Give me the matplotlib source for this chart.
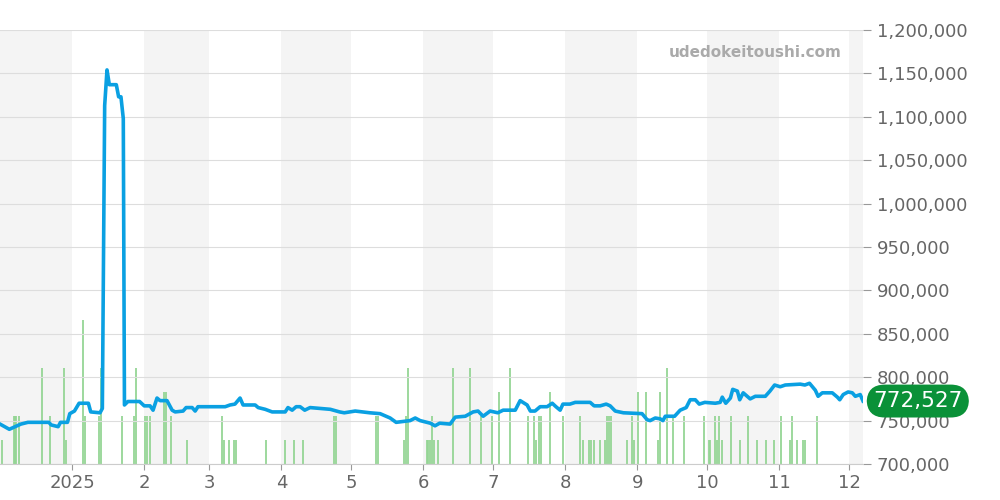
import datetime as dt
import matplotlib
matplotlib.use('Agg')
import matplotlib.pyplot as plt

# 価格推移 (2024-12-01 からの日数, 円)
start = dt.datetime(2024, 12, 1)
price_days = [0, 4, 9, 12, 21, 22, 25, 26, 29, 30, 32, 34, 38, 39, 43, 44, 45, 46, 47, 50, 51, 52, 53, 53.5,
              55, 60, 62, 64.5, 65.8, 67.5, 68.8, 71.8, 74, 75.3, 78.7, 80, 82.6, 83.9, 85.1, 96.8, 98.9, 101,
              103.2, 104.5, 109.7, 111, 114, 117, 122.6, 123.8, 125.6, 127.3, 129, 131, 133.3, 142, 146, 148,
              150.5, 152.7, 159, 163.4, 167.7, 170.3, 176.3, 178.5, 180.6, 185, 187, 189, 193.5, 195.7, 200,
              203.4, 205.5, 207.7, 210.7, 214, 216.3, 221.5, 223.6, 226.6, 228, 230, 232.2, 235.2, 237.4, 239,
              240.8, 242, 245, 247.3, 253.7, 255.4, 258, 260.6, 262.3, 264.5, 268, 276, 278.2, 279.5, 281.7,
              283.8, 285, 286, 290, 292.4, 295, 296.7, 298.9, 300.6, 303, 307.5, 309.6, 310.5, 312, 314, 315,
              317, 318, 319.5, 322.5, 324.7, 329, 331, 333, 335.4, 337.6, 344, 346, 348, 350.5, 351.7, 353.5,
              357.8, 360, 361, 362.5, 364.6, 366.4, 367.7, 369.8, 371]
price_vals = [746, 740, 746, 748, 748, 745, 743, 748, 748, 758, 761, 770, 770, 760, 759, 764, 1113, 1154, 1137,
              1137, 1123, 1123, 1098, 768, 772, 772, 767, 767, 762, 776, 773, 773, 762, 760, 761, 765, 765, 761,
              766, 766, 768, 769, 776, 768, 768, 765, 763, 760, 760, 765, 762, 766, 766, 762, 765, 763, 760, 759,
              760, 761, 759, 758, 753, 748, 750, 753, 750, 747, 744, 747, 746, 754, 755, 760, 761, 755, 761, 759,
              762, 762, 773, 768, 761, 761, 766, 766, 770, 766, 762, 769, 769, 771, 771, 767, 767, 769, 767, 761,
              759, 758, 751, 750, 753, 752, 750, 755, 755, 762, 765, 774, 774, 769, 771, 770, 771, 777, 770, 776,
              786, 784, 774, 782, 775, 778, 778, 784, 791, 789, 791, 792, 791, 793, 785, 778, 782, 782, 777, 774,
              780, 783, 782, 778, 780, 772.527]
price_vals = [v * 1000 for v in price_vals]

# 取引数
vol_days = [1, 6, 6.5, 7, 8, 18, 21.5, 27.5, 28.5, 35.7, 36.6, 42.6, 43.4, 52.5, 57.6, 58.5, 62.4, 63.2, 64.5,
            70.5, 71.4, 73.5, 80.4, 95.5, 96.3, 98.5, 100.6, 101.5, 114.4, 122.6, 126.4, 130.3, 143.6, 144.5,
            161.7, 162.5, 173.7, 174.6, 175.4, 183.6, 184.2, 184.9, 185.8, 186.6, 188.3, 194.8, 202.1, 206.8,
            211.6, 214.6, 219.3, 227, 229.6, 230.5, 231.8, 232.6, 236.5, 242, 249.4, 250.7, 253.3, 254.1, 255.4,
            258, 260, 261, 261.9, 262.7, 269.6, 271.8, 272.4, 274.3, 277.8, 282.9, 283.8, 286.8, 289.4, 294.1,
            302.7, 304.9, 305.4, 307.5, 308.3, 309.2, 310.5, 314.3, 318.2, 321.6, 325.5, 329.4, 332.8, 335.8,
            339.7, 340.6, 342.7, 345.3, 346.2, 351.3]
vol_vals = [1, 2, 2, 2, 2, 4, 2, 4, 1, 6, 2, 2, 4, 2, 2, 4, 2, 2, 2, 3, 3, 2, 1, 2, 1, 1, 1, 1, 1, 1, 1, 1, 2, 2,
            2, 2, 1, 2, 4, 1, 1, 1, 2, 1, 1, 4, 4, 2, 2, 3, 4, 2, 2, 1, 2, 2, 3, 2, 2, 1, 1, 1, 1, 1, 1, 2, 2, 2,
            1, 2, 1, 3, 3, 1, 3, 4, 2, 2, 2, 1, 1, 2, 1, 2, 1, 2, 1, 2, 1, 1, 1, 2, 1, 2, 1, 1, 1, 2]

last_price = price_vals[-1]

fig = plt.figure(figsize=(10, 5), dpi=100)
ax = fig.add_axes([0.0, 0.072, 0.863, 0.868])
axv = ax.twinx()
ax.set_zorder(2)
ax.patch.set_visible(False)

to_date = lambda d: start + dt.timedelta(days=d)
px = [to_date(d) for d in price_days]
vx = [to_date(d) for d in vol_days]
x0, x1 = to_date(0), to_date(371)

# 月ごとの背景 (出来高の軸に描く)
for m in range(13):
    y, mo = 2024 + (11 + m) // 12, (11 + m) % 12 + 1
    if m % 2 == 0:
        a = dt.datetime(y, mo, 1)
        b = dt.datetime(y + (mo == 12), mo % 12 + 1, 1)
        axv.axvspan(a, b, color='#f4f4f4', zorder=0, lw=0)

axv.vlines(vx, 0, vol_vals, color='#95d595', lw=1.3, zorder=1)
axv.set_ylim(0, 18.1)
axv.axis('off')

ax.plot(px, price_vals, color='#0aa0e2', lw=2.6, zorder=3, solid_joinstyle='round')
ax.set_xlim(x0, x1)
ax.set_ylim(700000, 1200000)
ax.set_yticks(range(700000, 1200001, 50000))
ax.yaxis.tick_right()
ax.tick_params(axis='y', labelsize=13, colors='#666666', length=6, color='#999999', pad=4)
ax.yaxis.set_major_formatter(matplotlib.ticker.FuncFormatter(lambda v, p: f'{int(v):,}'))
ax.grid(axis='y', color='#dddddd', lw=0.8)

ticks = [dt.datetime(2025, m, 1) for m in range(1, 13)]
ax.set_xticks(ticks)
ax.set_xticklabels(['2025'] + [str(m) for m in range(2, 13)])
ax.tick_params(axis='x', labelsize=13, colors='#666666', length=4, color='#999999')
for s in ['top', 'left', 'right']:
    ax.spines[s].set_visible(False)
ax.spines['bottom'].set_color('#cccccc')

fig.text(0.755, 0.895, 'udedokeitoushi.com', ha='center', va='center', fontsize=11,
         fontweight='bold', color='#aaaaaa')
ax.text(1.0635, last_price, f'{last_price:,.0f}', transform=ax.get_yaxis_transform(),
        ha='center', va='center', fontsize=15.5, color='white', zorder=10,
        bbox=dict(boxstyle='round,pad=0.3,rounding_size=0.85', fc='#0a9138', ec='none'))

fig.savefig('out.png')
